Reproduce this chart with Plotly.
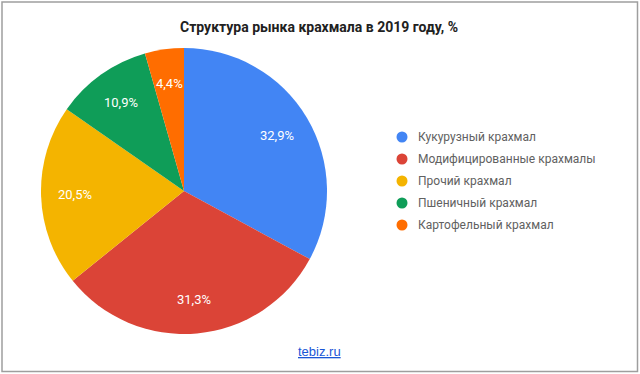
import math
import plotly.graph_objects as go

W, H = 640, 374

title = "Структура рынка крахмала в 2019 году, %"
labels = ["Кукурузный крахмал", "Модифицированные крахмалы", "Прочий крахмал",
          "Пшеничный крахмал", "Картофельный крахмал"]
values = [32.9, 31.3, 20.5, 10.9, 4.4]
colors = ["#4285F4", "#DB4437", "#F4B400", "#0F9D58", "#FF6D00"]
source = "tebiz.ru"

def px(x):
    return x / W

def py(y):
    return 1 - y / H

# pie geometry (pixels)
cx, cy, r = 184, 191, 143

fig = go.Figure()
fig.add_trace(go.Pie(
    labels=labels, values=values, sort=False, direction="clockwise", rotation=0,
    marker=dict(colors=colors, line=dict(width=0)),
    textinfo="none", hoverinfo="label+percent", showlegend=False,
    domain=dict(x=[px(cx - r), px(cx + r)], y=[py(cy + r), py(cy - r)]),
))

annotations = []
shapes = []

# slice labels placed at the middle angle of each slice
total = sum(values)
cum = 0.0
for v in values:
    mid = (cum + v / 2) / total * 2 * math.pi
    cum += v
    lx = cx + 0.76 * r * math.sin(mid)
    ly = cy - 0.76 * r * math.cos(mid)
    annotations.append(dict(
        x=px(lx), y=py(ly), xref="paper", yref="paper",
        text=(f"{v:.1f}%").replace(".", ","), showarrow=False,
        font=dict(family="Roboto", size=13, color="white"),
        xanchor="center", yanchor="middle",
    ))

# legend
ly0, dy = 137, 22
for i, (lab, col) in enumerate(zip(labels, colors)):
    yy = ly0 + i * dy
    shapes.append(dict(type="circle", xref="paper", yref="paper",
                       x0=px(402 - 5.5), x1=px(402 + 5.5),
                       y0=py(yy + 5.5), y1=py(yy - 5.5),
                       fillcolor=col, line=dict(width=0)))
    annotations.append(dict(
        x=px(416), y=py(yy), xref="paper", yref="paper", text=lab,
        showarrow=False, xanchor="left", yanchor="middle",
        font=dict(family="Roboto", size=12, color="#616161"),
    ))

# title
annotations.append(dict(
    x=px(319), y=py(27), xref="paper", yref="paper",
    text=f"<b>{title}</b>", showarrow=False, xanchor="center", yanchor="middle",
    font=dict(family="Roboto", size=14, color="#212121"),
))

# source link
annotations.append(dict(
    x=px(319), y=py(351), xref="paper", yref="paper",
    text=f"<u>{source}</u>", showarrow=False, xanchor="center", yanchor="middle",
    font=dict(family="Liberation Sans", size=13, color="#1a56d6"),
))

# chart border
shapes.append(dict(type="rect", xref="paper", yref="paper",
                   x0=px(2), x1=px(637.5), y0=py(371.5), y1=py(2),
                   line=dict(color="#9e9e9e", width=1.5), fillcolor="rgba(0,0,0,0)"))

fig.update_layout(
    width=W, height=H, margin=dict(l=0, r=0, t=0, b=0),
    paper_bgcolor="white", plot_bgcolor="white",
    annotations=annotations, shapes=shapes, showlegend=False,
)

fig.write_html("out.html", config={"displayModeBar": False},
               post_script="document.body.style.margin='0';document.body.style.overflow='hidden';")
